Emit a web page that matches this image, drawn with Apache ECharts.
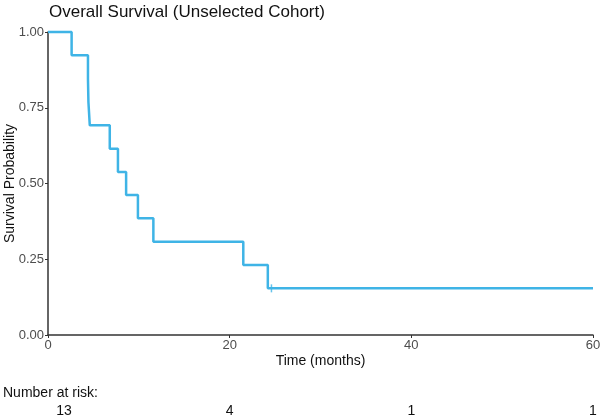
<!DOCTYPE html>
<html lang="en">
<head>
	<meta charset="UTF-8">
	<title>Overall Survival</title>
	<script src="https://cdn.jsdelivr.net/npm/echarts@6/dist/echarts.min.js"></script>
	<style>
		html, body { margin: 0; padding: 0; background: #fff; }
		#km { width: 600px; height: 419px; }
	</style>
</head>
<body>
	<div id="km"></div>

	<script type="text/javascript">
		// KM curve: event times (months) and survival after each step
		var times = [0, 2.6, 4.4, 4.45, 4.6, 6.8, 7.7, 8.6, 9.9, 11.6, 21.5, 24.2, 60];
		var survival = [1, 0.923, 0.846, 0.769, 0.692, 0.615, 0.538, 0.462, 0.385, 0.308, 0.231, 0.154, 0.154];
		// censored observations
		var censorTimes = [24.6];
		var censorSurv = [0.154];
		// number at risk table
		var riskTimes = [0, 20, 40, 60];
		var riskCounts = [13, 4, 1, 1];

		var lineColor = '#3FB4E6';

		var curve = [];
		for (var i = 0; i < times.length; i++) {
			curve.push([times[i], survival[i]]);
		}
		var censored = [];
		for (var j = 0; j < censorTimes.length; j++) {
			censored.push([censorTimes[j], censorSurv[j]]);
		}

		var myChart = echarts.init(document.getElementById('km'));
		myChart.setOption({
			animation: false,
			title: [{
				text: 'Overall Survival (Unselected Cohort)',
				left: 49,
				top: 4,
				padding: 0,
				textStyle: { fontFamily: 'Liberation Sans', fontSize: 17, fontWeight: 'normal', color: '#111' }
			}, {
				text: 'Number at risk:',
				left: 3,
				top: 386,
				padding: 0,
				textStyle: { fontFamily: 'Liberation Sans', fontSize: 14, fontWeight: 'normal', color: '#111' }
			}],
			grid: [
				{ left: 48, right: 7, top: 32, bottom: 84, containLabel: false, outerBoundsMode: 'none' },
				{ left: 48, right: 7, top: 396, height: 1, containLabel: false, outerBoundsMode: 'none' }
			],
			xAxis: [{
				type: 'value',
				min: 0,
				max: 60,
				interval: 20,
				name: 'Time (months)',
				nameLocation: 'middle',
				nameGap: 19,
				nameMoveOverlap: false,
				nameTextStyle: { fontFamily: 'Liberation Sans', fontSize: 14, color: '#111' },
				splitLine: { show: false },
				axisLine: { lineStyle: { color: '#333', width: 1.5 } },
				axisTick: { length: 3, lineStyle: { color: '#333' } },
				axisLabel: { margin: 4, fontFamily: 'Liberation Sans', fontSize: 13, color: '#4d4d4d' }
			}, {
				type: 'value',
				gridIndex: 1,
				min: 0,
				max: 60,
				interval: 20,
				splitLine: { show: false },
				axisLine: { show: false },
				axisTick: { show: false },
				axisLabel: {
					margin: 7,
					fontFamily: 'Liberation Sans',
					fontSize: 14,
					color: '#111',
					formatter: function (v) {
						var k = riskTimes.indexOf(v);
						if (k < 0) return '';
						return k === 0 ? '{first|' + riskCounts[k] + '}' : String(riskCounts[k]);
					},
					rich: {
						first: { padding: [0, 0, 0, 32], fontFamily: 'Liberation Sans', fontSize: 14, color: '#111' }
					}
				}
			}],
			yAxis: [{
				type: 'value',
				min: 0,
				max: 1,
				interval: 0.25,
				name: 'Survival Probability',
				nameLocation: 'middle',
				nameGap: 31,
				nameMoveOverlap: false,
				nameTextStyle: { fontFamily: 'Liberation Sans', fontSize: 14, color: '#111' },
				splitLine: { show: false },
				axisLine: { show: true, lineStyle: { color: '#333', width: 1.5 } },
				axisTick: { show: true, length: 3, lineStyle: { color: '#333' } },
				axisLabel: {
					margin: 4,
					fontFamily: 'Liberation Sans',
					fontSize: 13,
					color: '#4d4d4d',
					formatter: function (v) { return v.toFixed(2); }
				}
			}, {
				type: 'value',
				gridIndex: 1,
				show: false
			}],
			series: [{
				name: 'Survival',
				type: 'line',
				step: 'end',
				data: curve,
				showSymbol: false,
				symbol: 'none',
				clip: false,
				lineStyle: { color: lineColor, width: 2.5 }
			}, {
				name: 'Censored',
				type: 'scatter',
				data: censored,
				symbol: 'rect',
				symbolSize: [1.5, 8],
				itemStyle: { color: lineColor }
			}]
		});
	</script>
</body>
</html>
